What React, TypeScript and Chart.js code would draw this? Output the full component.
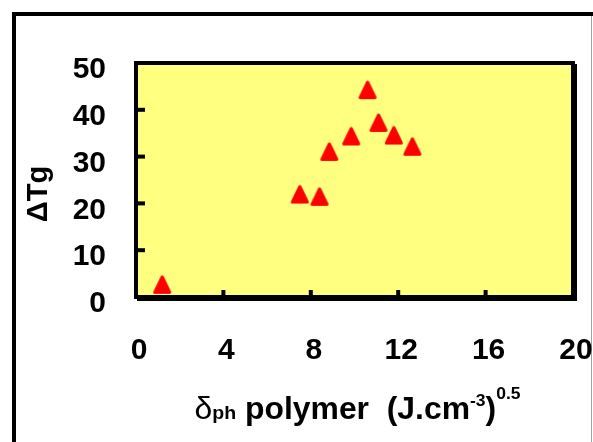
import React, { useEffect, useRef } from 'react';
import { Chart, registerables } from 'chart.js';

Chart.register(...registerables);

// Solubility parameter of the polymer, δph (J.cm-3)^0.5
const deltaPh = [1.2, 7.5, 8.4, 8.85, 9.85, 10.6, 11.1, 11.8, 12.65];
// Glass transition shift ΔTg
const deltaTg = [2.6, 21.9, 21.4, 31.0, 34.3, 44.2, 37.2, 34.5, 32.1];

const xMin = 0, xMax = 20, xStep = 4;
const yMin = 0, yMax = 50, yStep = 10;

const yTitle = 'ΔTg';
const xTitleParts = [
  { text: 'δ', kind: 'symbol' },
  { text: 'ph', kind: 'sub' },
  { text: ' polymer  (J.cm', kind: 'main' },
  { text: '-3', kind: 'sup1' },
  { text: ')', kind: 'main' },
  { text: '0.5', kind: 'sup2' },
];

const FAMILY = '"Liberation Sans", Arial, sans-serif';

function makeMarker(): HTMLCanvasElement {
  const c = document.createElement('canvas');
  c.width = 22;
  c.height = 22;
  const g = c.getContext('2d')!;
  g.fillStyle = '#FF0000';
  g.strokeStyle = '#FF0000';
  g.lineWidth = 3;
  g.lineJoin = 'round';
  g.beginPath();
  g.moveTo(11, 3);
  g.lineTo(18.5, 18.5);
  g.lineTo(3.5, 18.5);
  g.closePath();
  g.fill();
  g.stroke();
  return c;
}

const decor = {
  id: 'decor',
  beforeDraw(chart: any) {
    const { ctx, chartArea: a, width, height } = chart;
    ctx.save();
    ctx.fillStyle = '#FFFFFF';
    ctx.fillRect(0, 0, width, height);
    ctx.fillStyle = '#000000';
    ctx.fillRect(12, 12, width - 12, 4);
    ctx.fillRect(12, 12, 4, height - 12);
    ctx.fillStyle = '#A0A0A0';
    ctx.fillRect(591, 16, 1, height - 16);
    ctx.fillStyle = '#FFFF80';
    ctx.fillRect(a.left, a.top, a.right - a.left, a.bottom - a.top);
    ctx.restore();
  },
  beforeDatasetsDraw(chart: any) {
    const { ctx, chartArea: a, scales } = chart;
    ctx.save();
    ctx.fillStyle = '#000000';
    for (let v = xMin + xStep; v < xMax; v += xStep) {
      const px = scales.x.getPixelForValue(v);
      ctx.fillRect(px - 2, a.bottom - 7, 4, 7);
    }
    for (let v = yMin + yStep; v < yMax; v += yStep) {
      const py = scales.y.getPixelForValue(v);
      ctx.fillRect(a.left, py - 2, 9, 4);
    }
    ctx.strokeStyle = '#000000';
    ctx.lineWidth = 4;
    ctx.strokeRect(a.left, a.top, a.right - a.left, a.bottom - a.top);
    ctx.fillRect(a.right + 2, a.top + 1, 2, a.bottom - a.top + 3);
    ctx.fillRect(a.left + 1, a.bottom + 2, a.right - a.left + 3, 2);
    ctx.restore();
  },
  afterDraw(chart: any) {
    const { ctx, chartArea: a } = chart;
    ctx.save();
    ctx.fillStyle = '#000000';
    // Y title
    ctx.save();
    ctx.translate(39, 194);
    ctx.rotate(-Math.PI / 2);
    ctx.font = `bold 29px ${FAMILY}`;
    ctx.textAlign = 'center';
    ctx.textBaseline = 'middle';
    ctx.fillText(yTitle, 0, 0);
    ctx.restore();

    // X title with subscript / superscripts
    const fonts: Record<string, { font: string; dy: number }> = {
      symbol: { font: `31px ${FAMILY}`, dy: 0 },
      sub: { font: `bold 19px ${FAMILY}`, dy: 0 },
      main: { font: `bold 31px ${FAMILY}`, dy: 0 },
      sup1: { font: `bold 17px ${FAMILY}`, dy: -13 },
      sup2: { font: `bold 17px ${FAMILY}`, dy: -20 },
    };
    let total = 0;
    const widths = xTitleParts.map((p) => {
      ctx.font = fonts[p.kind].font;
      const w = ctx.measureText(p.text).width;
      total += w;
      return w;
    });
    const target = 326;
    const sx = target / total;
    const cx = (a.left + a.right) / 2 + 3;
    ctx.translate(cx - target / 2, 419);
    ctx.scale(sx, 1);
    ctx.textBaseline = 'alphabetic';
    ctx.textAlign = 'left';
    let x = 0;
    xTitleParts.forEach((p, i) => {
      ctx.font = fonts[p.kind].font;
      ctx.fillText(p.text, x, fonts[p.kind].dy);
      x += widths[i];
    });
    ctx.restore();
  },
};

export default function App() {
  const ref = useRef<HTMLCanvasElement>(null);
  useEffect(() => {
    const marker = makeMarker();
    const chart = new Chart(ref.current!, {
      type: 'scatter',
      data: {
        datasets: [
          {
            data: deltaPh.map((x, i) => ({ x, y: deltaTg[i] })),
            pointStyle: marker as any,
            pointRadius: 10,
            backgroundColor: '#FF0000',
            borderColor: '#FF0000',
          },
        ],
      },
      options: {
        responsive: false,
        animation: false,
        layout: { padding: { top: 63, right: 0, left: 0, bottom: 0 } },
        plugins: { legend: { display: false }, tooltip: { enabled: false } },
        scales: {
          x: {
            type: 'linear',
            min: xMin,
            max: xMax,
            grid: { display: false },
            border: { display: false },
            ticks: {
              stepSize: xStep,
              color: '#000000',
              font: { family: FAMILY, size: 30, weight: 'bold' },
              padding: 28,
              labelOffset: 3,
              maxRotation: 0,
              autoSkip: false,
            },
            afterFit: (s: any) => {
              s.height = 145;
              s.paddingLeft = 0;
              s.paddingRight = 20;
              s.paddingTop = 0;
              s.paddingBottom = 0;
            },
          },
          y: {
            type: 'linear',
            min: yMin,
            max: yMax,
            grid: { display: false },
            border: { display: false },
            ticks: {
              stepSize: yStep,
              color: '#000000',
              font: { family: FAMILY, size: 30, weight: 'bold' },
              padding: 22,
              labelOffset: 7,
            },
            afterFit: (s: any) => {
              s.width = 136;
              s.paddingTop = 0;
              s.paddingBottom = 0;
              s.paddingLeft = 0;
              s.paddingRight = 0;
            },
          },
        },
      },
      plugins: [decor],
    });
    return () => chart.destroy();
  }, []);
  return (
    <div style={{ position: 'absolute', left: 0, top: 0, width: 593, height: 442 }}>
      <canvas ref={ref} width={593} height={442} style={{ display: 'block' }} />
    </div>
  );
}
